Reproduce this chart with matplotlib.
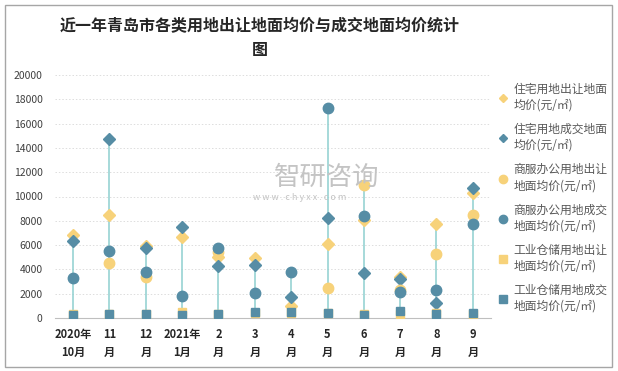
import numpy as np
import matplotlib
matplotlib.use('Agg')
from matplotlib import pyplot as plt
from matplotlib.lines import Line2D
from matplotlib.patches import Rectangle

plt.rcParams['font.family'] = ['Noto Sans CJK SC', 'DejaVu Sans']
plt.rcParams['axes.unicode_minus'] = False

months = ['2020年\n10月', '11\n月', '12\n月', '2021年\n1月', '2\n月', '3\n月',
          '4\n月', '5\n月', '6\n月', '7\n月', '8\n月', '9\n月']

# 住宅用地
house_sell = [6800, 8500, 5900, 6700, 5000, 4900, 1000, 6100, 8050, 3400, 7700, 10300]
house_deal = [6300, 14700, 5800, 7450, 4250, 4400, 1750, 8250, 3670, 3200, 1200, 10700]
# 商服办公用地
biz_sell = [np.nan, 4500, 3400, np.nan, 5400, np.nan, np.nan, 2450, 10950, 2300, 5250, 8450]
biz_deal = [3300, 5500, 3800, 1800, 5750, 2050, 3780, 17250, 8400, 2150, 2300, 7730]
# 工业仓储用地
ind_sell = [300, 350, 350, 500, 350, 400, 400, 400, 300, 350, 450, 350]
ind_deal = [250, 360, 360, 220, 360, 470, 470, 380, 270, 550, 300, 380]

labels = ['住宅用地出让地面\n均价(元/㎡)', '住宅用地成交地面\n均价(元/㎡)',
          '商服办公用地出让\n地面均价(元/㎡)', '商服办公用地成交\n地面均价(元/㎡)',
          '工业仓储用地出让\n地面均价(元/㎡)', '工业仓储用地成交\n地面均价(元/㎡)']

yellow = '#F7D27A'
teal = '#568DA5'
stem = '#8ECFCF'

fig = plt.figure(figsize=(6.18, 3.71), dpi=100)
fig.patches.append(Rectangle((5 / 618, 4 / 371), 607 / 618, 362 / 371, transform=fig.transFigure,
                             fill=False, edgecolor='#A6A6A6', lw=1))
ax = fig.add_axes([55 / 618, 1 - 318 / 371, 436 / 618, 243 / 371])

x = np.arange(len(months))
allv = np.array([house_sell, house_deal, biz_sell, biz_deal, ind_sell, ind_deal], dtype=float)
# 高低线
ax.vlines(x, np.nanmin(allv, axis=0), np.nanmax(allv, axis=0), color=stem, lw=1.1, zorder=2)

series = [(house_sell, 'D', yellow, 6), (house_deal, 'D', teal, 6),
          (biz_sell, 'o', yellow, 7.5), (biz_deal, 'o', teal, 7.5),
          (ind_sell, 's', yellow, 5.5), (ind_deal, 's', teal, 5.5)]
for i, (vals, m, c, ms) in enumerate(series):
    ax.plot(x, vals, linestyle='none', marker=m, color=c, markersize=ms, zorder=3 + i)

ax.set_xlim(-0.5, len(months) - 0.5)
ax.set_ylim(0, 20000)
ax.set_yticks(range(0, 20001, 2000))
ax.tick_params(axis='y', length=0, labelsize=7.5, colors='#404040', pad=9)
ax.set_xticks(x)
ax.set_xticklabels(months, fontsize=8, fontweight='bold', color='#262626', linespacing=1.55)
ax.tick_params(axis='x', length=0, pad=7)
ax.grid(axis='y', color='#DDDDDD', linestyle=(0, (1.5, 2)), lw=0.7)
ax.set_axisbelow(True)
for s in ['left', 'right', 'top']:
    ax.spines[s].set_visible(False)
ax.spines['bottom'].set_color('#BFBFBF')

fig.text(260 / 618, 1 - 38 / 371, '近一年青岛市各类用地出让地面均价与成交地面均价统计\n图',
         ha='center', va='center', fontsize=11.5, fontweight='bold', color='#262626', linespacing=1.55)

# 水印
fig.text(327 / 618, 1 - 177 / 371, '智研咨询', fontsize=19, color='#C4C4C4', ha='center', va='center', zorder=0)
fig.text(300 / 618, 1 - 198 / 371, 'w w w . c h y x x . c o m', fontsize=6.5, color='#C4C4C4', ha='center', va='center', zorder=0)

handles = [Line2D([], [], ls='none', marker='D', color=yellow, markersize=4),
           Line2D([], [], ls='none', marker='D', color=teal, markersize=4),
           Line2D([], [], ls='none', marker='o', color=yellow, markersize=6),
           Line2D([], [], ls='none', marker='o', color=teal, markersize=6),
           Line2D([], [], ls='none', marker='s', color=yellow, markersize=6),
           Line2D([], [], ls='none', marker='s', color=teal, markersize=6)]
leg = fig.legend(handles, labels, loc='upper left', bbox_to_anchor=(494 / 618, 1 - 78 / 371),
                 frameon=False, fontsize=8.5, handlelength=0.8, handletextpad=0.45,
                 labelspacing=0.95, borderaxespad=0)
for t in leg.get_texts():
    t.set_color('#595959')
    t.set_linespacing(1.3)

fig.savefig('out.png', dpi=100)
